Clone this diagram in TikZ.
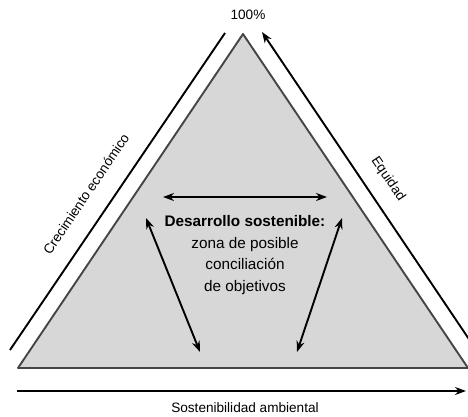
\documentclass[tikz,border=0pt]{standalone}
\usepackage{fontspec}
\setmainfont{Liberation Sans}
\usetikzlibrary{arrows.meta}
\definecolor{zona}{HTML}{D7D7D7}
\definecolor{borde}{HTML}{454545}
\begin{document}
\begin{tikzpicture}[>={Stealth[length=11pt,width=8pt]},line join=round,x=10pt,y=10pt,
	flecha/.style={line width=1.9pt,black},
	etiqueta/.style={font=\fontsize{13.6}{15}\selectfont,inner sep=0pt}]
	\useasboundingbox (0,0) rectangle (46.8,41.7);
	% triangulo
	\coordinate (A) at (24.3,38.3);
	\coordinate (B) at (1.8,4.9);
	\coordinate (C) at (46.8,4.9);
	\draw[fill=zona,draw=borde,line width=1.9pt] (A)--(B)--(C)--cycle;
	% ejes exteriores
	\coordinate (ci) at (1.0,6.7);
	\coordinate (cs) at (22.5,38.4);
	\coordinate (ei) at (48.1,6.0);
	\coordinate (es) at (26.2,38.5);
	\coordinate (si) at (1.7,2.6);
	\coordinate (sd) at (46.6,2.6);
	\draw[flecha] (ci)--(cs);
	\draw[flecha,->] (ei)--(es);
	\draw[flecha,->] (si)--(sd);
	\node[etiqueta] (cien) at (24.8,40.2) {100\%};
	\node[etiqueta] (sost) at (24.5,0.9) {Sostenibilidad ambiental};
	\node[etiqueta,rotate=56] (crec) at (8.6,22.3) {Crecimiento económico};
	\node[etiqueta,rotate=-56] (equi) at (38.8,23.8) {Equidad};
	% zona central
	\node[align=center,font=\fontsize{15.3}{21.5}\selectfont,inner sep=0pt] (des) at (24.5,16.2)
		{\textbf{Desarrollo sostenible:}\\zona de posible\\conciliación\\de objetivos};
	\coordinate (h1) at (16.3,22.0);
	\coordinate (h2) at (32.7,22.0);
	\coordinate (l1) at (14.6,19.9);
	\coordinate (l2) at (20.0,6.5);
	\coordinate (r1) at (34.2,19.9);
	\coordinate (r2) at (29.7,6.5);
	\draw[flecha,<->] (h1)--(h2);
	\draw[flecha,<->] (l1)--(l2);
	\draw[flecha,<->] (r1)--(r2);
\end{tikzpicture}
\end{document}
